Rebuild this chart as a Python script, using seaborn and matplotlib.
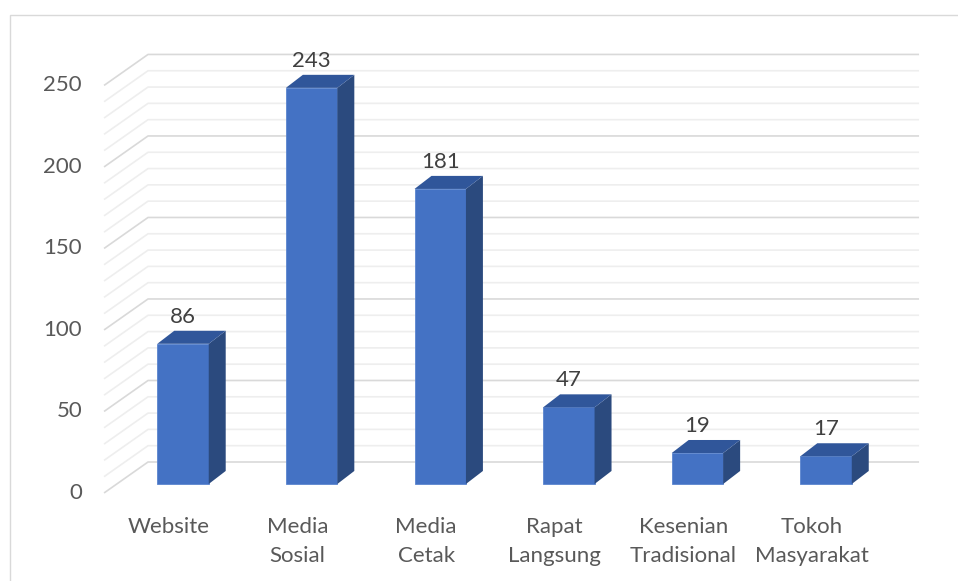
import matplotlib

matplotlib.use("Agg")
import matplotlib.pyplot as plt
import seaborn as sns
import numpy as np
import pandas as pd
from matplotlib.patches import Polygon, Rectangle

# data
categories = ["Website", "Media Sosial", "Media Cetak", "Rapat Langsung",
              "Kesenian Tradisional", "Tokoh Masyarakat"]
tick_labels = ["Website", "Media\nSosial", "Media\nCetak", "Rapat\nLangsung",
               "Kesenian\nTradisional", "Tokoh\nMasyarakat"]
values = [86, 243, 181, 47, 19, 17]
y_ticks = [0, 50, 100, 150, 200, 250]
grid_values = list(range(0, 251, 10))

FRONT = "#4472C4"
SIDE = "#2B4A7E"
TOP = "#30569A"
TEXT = "#595959"

# 3d look (data units): bar depth, wall depth
bar_dx, bar_dy = 0.132, 8.0
front_x, front_dy = -0.614, -5.5
back_x, back_right, back_dy = -0.272, 5.723, 13.5


def draw_walls(ax):
    for v in grid_values:
        major = v % 50 == 0
        col = "#d9d9d9" if major else "#eeeeee"
        ax.plot([front_x, back_x, back_right],
                [v + front_dy, v + back_dy, v + back_dy],
                color=col, lw=1.2, zorder=1, solid_capstyle="butt")


def add_3d_faces(ax):
    for p in ax.patches[:len(values)]:
        x0 = p.get_x()
        x1 = x0 + p.get_width()
        h = p.get_height()
        side = Polygon([(x1, 0), (x1 + bar_dx, bar_dy), (x1 + bar_dx, h + bar_dy), (x1, h)],
                       closed=True, facecolor=SIDE, edgecolor="none", zorder=3)
        top = Polygon([(x0, h), (x0 + bar_dx, h + bar_dy), (x1 + bar_dx, h + bar_dy), (x1, h)],
                      closed=True, facecolor=TOP, edgecolor="none", zorder=3)
        ax.add_patch(side)
        ax.add_patch(top)


def main():
    sns.set_theme(style="white")
    plt.rcParams["font.family"] = ["Lato", "DejaVu Sans"]

    df = pd.DataFrame({"kategori": categories, "jumlah": values})

    fig = plt.figure(figsize=(9.58, 5.81), dpi=100)
    ax = fig.add_axes([0, 0, 1, 1])
    sns.barplot(data=df, x="kategori", y="jumlah", ax=ax, width=0.4,
                color=FRONT, saturation=1, zorder=3, edgecolor="#5b85cf",
                linewidth=0.6)
    add_3d_faces(ax)
    draw_walls(ax)

    ax.set_xlim(-1.423, 6.026)
    ax.set_ylim(-59.5, 296.9)
    ax.axis("off")

    # y tick labels on front edge
    for t in y_ticks:
        ax.text(-0.785, t + front_dy, str(t), ha="right", va="center",
                fontsize=16, color=TEXT)

    # category labels
    for i, lab in enumerate(tick_labels):
        ax.text(i - 0.11, -20.5, lab, ha="center", va="top", fontsize=16,
                color=TEXT, linespacing=1.55)

    # data labels
    for i, v in enumerate(values):
        ax.text(i, v + 16.5, str(v), ha="center", va="center", fontsize=16,
                color="#404040")

    # chart border
    fig.add_artist(Rectangle((10 / 958, -0.05), 1.2, (581 - 15) / 581 + 0.05,
                             transform=fig.transFigure, fill=False,
                             edgecolor="#d9d9d9", lw=1.0))

    plt.savefig("out.png", dpi=100)


if __name__ == "__main__":
    main()
